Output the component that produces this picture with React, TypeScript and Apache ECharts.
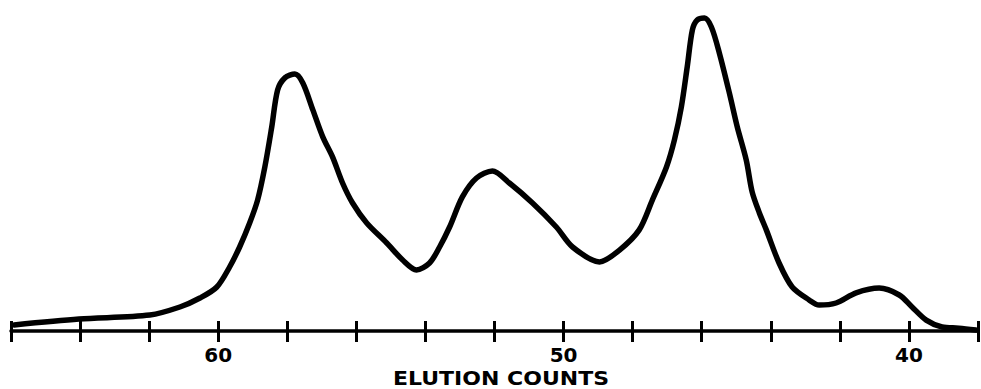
import React, { useEffect, useRef } from "react";
import * as echarts from "echarts";

// Elution counts (x) and relative detector response (y, arbitrary units 0–100)
const elutionCounts: number[] = [
  65.91, 64.03, 61.98, 61.11, 60.53, 60.04, 59.67, 59.38, 59.09, 58.86, 58.65,
  58.45, 58.28, 58.07, 57.78, 57.55, 57.26, 56.97, 56.69, 56.4, 56.11, 55.7,
  55.12, 54.66, 54.26, 53.88, 53.59, 53.3, 52.93, 52.52, 52.06, 51.57, 50.9,
  50.21, 49.74, 48.96, 48.38, 47.81, 47.43, 47.02, 46.79, 46.59, 46.42, 46.27,
  46.13, 45.92, 45.72, 45.49, 45.2, 44.97, 44.71, 44.54, 44.33, 44.13, 43.76,
  43.38, 42.89, 42.6, 42.11, 41.53, 40.86, 40.28, 39.91, 39.5, 39.04, 38.55,
  38.06,
];
const response: number[] = [
  1.9, 3.75, 5.0, 7.5, 10.3, 13.75, 20, 26.25, 33.75, 40.9, 51.25,
  63.75, 75.3, 79.1, 80.3, 77.5, 69.1, 60.6, 54.4, 46.25, 40, 33.75,
  27.5, 22.2, 19.1, 21.25, 26.25, 32.5, 41.9, 47.8, 50, 46.25, 40,
  32.5, 26.25, 21.6, 25.3, 31.6, 40.9, 51.25, 59.7, 70, 82.5, 94.1,
  97.2, 97.8, 95, 86.9, 74.4, 63.75, 53.4, 43.5, 36.9, 31.6, 21.25,
  13.75, 9.7, 8.1, 8.75, 11.9, 13.4, 11.25, 7.5, 3.4, 1.25, 0.9,
  0.3,
];
const labelledTicks: number[] = [60, 50, 40];
const axisTitle = "ELUTION COUNTS";

export default function App() {
  const ref = useRef<HTMLDivElement>(null);
  useEffect(() => {
    if (!ref.current) return;
    const chart = echarts.init(ref.current, undefined, { renderer: "svg" });
    const data = elutionCounts.map((x, i) => [x, response[i]]);
    const baseAxis = {
      type: "value" as const,
      min: 38,
      max: 66,
      interval: 2,
      inverse: true,
      position: "bottom" as const,
      splitLine: { show: false },
    };
    chart.setOption({
      animation: false,
      backgroundColor: "#ffffff",
      grid: { left: 11, right: 2, top: 11, bottom: 58 },
      xAxis: [
        {
          ...baseAxis,
          axisLine: { show: true, lineStyle: { color: "#000", width: 3.5 } },
          axisTick: { show: true, inside: false, length: 11, lineStyle: { color: "#000", width: 3 } },
          axisLabel: {
            show: true,
            margin: 14,
            color: "#000",
            fontFamily: "DejaVu Sans",
            fontWeight: "bold",
            fontSize: 20,
            formatter: (v: number) => (labelledTicks.includes(v) ? String(v) : ""),
          },
        },
        {
          ...baseAxis,
          axisLine: { show: false },
          axisTick: { show: true, inside: true, length: 10, lineStyle: { color: "#000", width: 3 } },
          axisLabel: { show: false },
        },
      ],
      yAxis: { type: "value", min: 0, max: 100, show: false },
      graphic: [
        {
          type: "text",
          x: 501,
          y: 369,
          scaleX: 1.1,
          style: {
            text: axisTitle,
            fill: "#000",
            fontFamily: "DejaVu Sans",
            fontWeight: "bold",
            fontSize: 20,
            lineHeight: 18,
            align: "center",
            verticalAlign: "top",
          },
        },
      ],
      series: [
        {
          type: "line",
          xAxisIndex: 0,
          data,
          smooth: 0.3,
          symbol: "none",
          clip: false,
          lineStyle: { color: "#000", width: 5.5, cap: "round", join: "round" },
        },
      ],
    });
    return () => chart.dispose();
  }, []);
  return <div ref={ref} style={{ width: 981, height: 389, position: "absolute", left: 0, top: 0 }} />;
}
